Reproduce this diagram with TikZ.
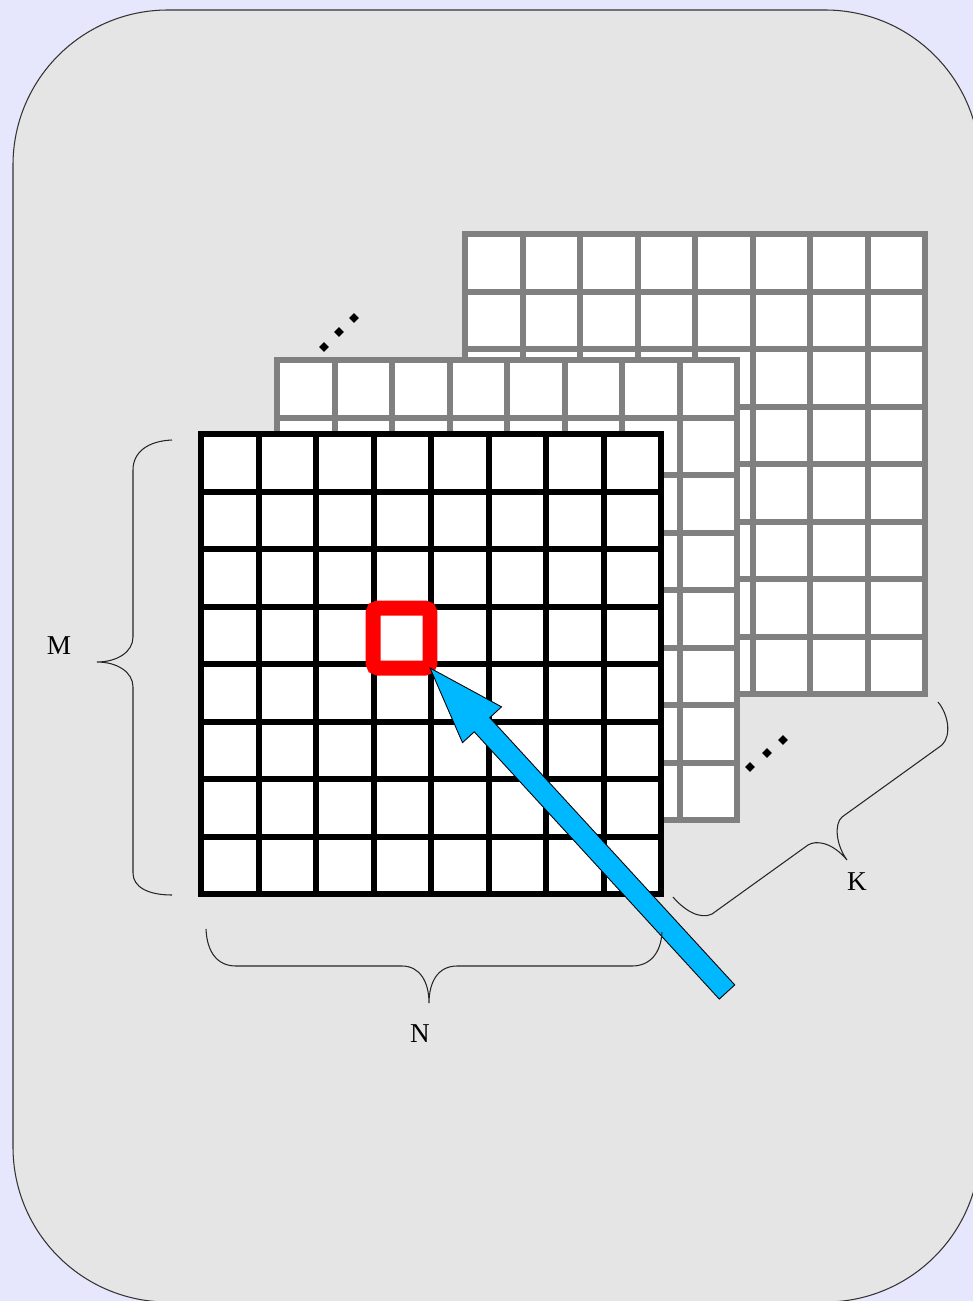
\documentclass[tikz,border=0pt]{standalone}
\usepackage{fontspec}
\setmainfont{Liberation Serif}
\usetikzlibrary{calc,shapes.geometric}

\definecolor{bgblue}{RGB}{230,230,252}
\definecolor{panelgray}{RGB}{229,229,229}
\definecolor{layergray}{RGB}{128,128,128}
\definecolor{arrowblue}{RGB}{0,184,255}

\begin{document}
\begin{tikzpicture}[x=0.02cm, y=-0.02cm,
  every node/.style={font=\fontsize{15.5}{18}\selectfont},
  gridline/.style={line width=0.12cm},
  brace/.style={draw=black!85, line width=0.6pt},
  dotmark/.style={shape=diamond, fill=black, inner sep=0pt, minimum size=0.2cm}]
  \path[use as bounding box, fill=bgblue] (0,0) rectangle (973,1301);
  \draw[fill=panelgray, draw=black!80, line width=0.6pt, rounded corners=3.1cm] (13,10) rectangle (980,1302);

  % three layers, back to front
  \foreach \lx/\ly/\lc in {465/234/layergray, 277/360/layergray, 201/434/black} {
    \fill[white] (\lx,\ly) rectangle ++(460,460);
    \foreach \i in {1,...,7} {
      \draw[gridline, \lc] (\lx+\i*57.5,\ly) -- ++(0,460);
      \draw[gridline, \lc] (\lx,\ly+\i*57.5) -- ++(460,0);
    }
    \draw[gridline, \lc] (\lx,\ly) rectangle ++(460,460);
  }

  % dots between layers
  \node[dotmark] (dotA1) at (324,347) {};
  \node[dotmark] (dotA2) at (339,332) {};
  \node[dotmark] (dotA3) at (354,318) {};
  \node[dotmark] (dotB1) at (750,767) {};
  \node[dotmark] (dotB2) at (767,753) {};
  \node[dotmark] (dotB3) at (783,740) {};

  % selected cell
  \node[draw=red, line width=0.3cm, rounded corners=0.1cm, inner sep=0pt, outer sep=0pt, minimum width=1.14cm, minimum height=1.2cm] (cell) at (401.5,638) {};

  % pointer
  \coordinate (tail) at (727,992);
  \coordinate (tip) at (cell.south east);
  \coordinate (hb) at ($(tip)!1.54cm!(tail)$);
  \draw[fill=arrowblue, draw=black, line width=0.5pt, line join=miter]
    ($(tail)!0.21cm!90:(tip)$) -- ($(hb)!0.21cm!90:(tip)$) -- ($(hb)!0.53cm!90:(tip)$) -- (tip)
    -- ($(hb)!0.53cm!-90:(tip)$) -- ($(hb)!0.21cm!-90:(tip)$) -- ($(tail)!0.21cm!-90:(tip)$) -- cycle;

  % braces
  \draw[brace] (172,440) .. controls (148,441) and (133,452) .. (133,470) -- (133,637)
    .. controls (133,652) and (117,662) .. (97,662) .. controls (117,662) and (133,672) .. (133,687)
    -- (133,873) .. controls (133,887) and (148,895) .. (172,895);
  \draw[brace] (206,929) .. controls (207,953) and (218,966) .. (236,966) -- (402,966)
    .. controls (420,966) and (429,982) .. (429,1003) .. controls (429,982) and (438,966) .. (457,966)
    -- (632,966) .. controls (650,966) and (661,953) .. (662,932);
  \draw[brace] (938,702) .. controls (948,714) and (952,735) .. (942,745) -- (842,817)
    .. controls (834,824) and (836,845) .. (847,860) .. controls (832,842) and (816,840) .. (808,845)
    -- (712,914) .. controls (700,920) and (684,910) .. (673,897);

  \node (labelM) at (59,646) {M};
  \node (labelN) at (420,1034) {N};
  \node (labelK) at (857,882) {K};
\end{tikzpicture}
\end{document}
